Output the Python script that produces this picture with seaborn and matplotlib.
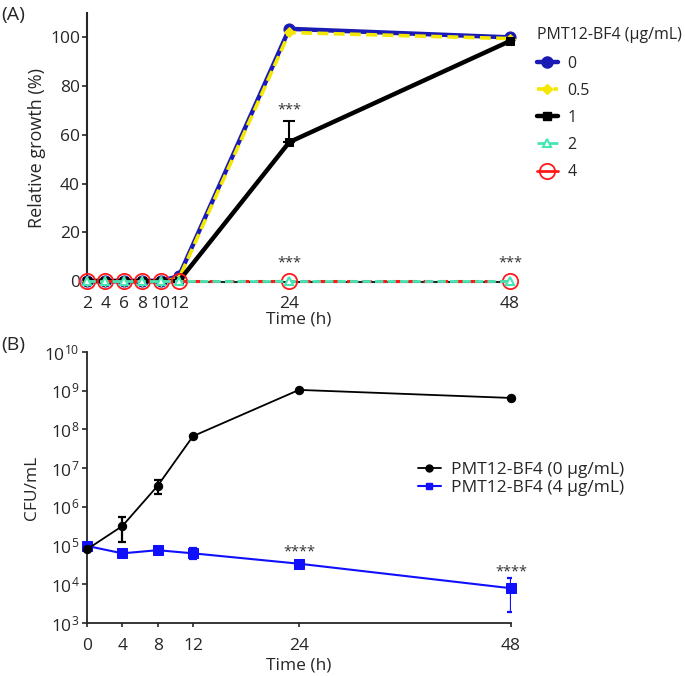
import numpy as np
import pandas as pd
import matplotlib
matplotlib.use("Agg")
import matplotlib.pyplot as plt
import seaborn as sns
from matplotlib.lines import Line2D

sns.set_style("ticks")
plt.rcParams['font.family'] = ['Open Sans', 'DejaVu Sans']
plt.rcParams['mathtext.fontset'] = 'custom'
plt.rcParams['mathtext.rm'] = 'Open Sans'

# ---------------- data: panel A ----------------
time_a = [2, 4, 6, 8, 10, 12, 24, 48]
conc_labels = ["0", "0.5", "1", "2", "4"]
growth_0 = [0, 0, 0, 0, 0, 2, 103.5, 100]
growth_05 = [0, 0, 0, 0, 0, 1, 102, 99.5]
growth_1 = [0, 0, 0, 0, 0, 0, 57, 98.5]
growth_1_err = [0, 0, 0, 0, 0, 0, 8.5, 1]
growth_2 = [0, 0, 0, 0, 0, 0, 0, 0]
growth_4 = [0, 0, 0, 0, 0, 0, 0, 0]
xticks_a = [2, 4, 6, 8, 10, 12, 24, 48]
yticks_a = [0, 20, 40, 60, 80, 100]

# ---------------- data: panel B ----------------
time_b = [0, 4, 8, 12, 24, 48]
cfu_0 = [8.0e4, 3.2e5, 3.5e6, 6.7e7, 1.05e9, 6.5e8]
cfu_0_lo = [8.0e4, 1.26e5, 2.1e6, 6.7e7, 1.05e9, 6.5e8]
cfu_0_hi = [8.0e4, 5.5e5, 5.0e6, 6.7e7, 1.05e9, 6.5e8]
cfu_4 = [9.8e4, 6.3e4, 7.6e4, 6.3e4, 3.4e4, 7.9e3]
cfu_4_lo = [9.8e4, 6.3e4, 7.6e4, 4.5e4, 3.4e4, 1.95e3]
cfu_4_hi = [9.8e4, 6.3e4, 7.6e4, 8.5e4, 3.4e4, 1.45e4]
xticks_b = [0, 4, 8, 12, 24, 48]
legend_b = ["PMT12-BF4 (0 μg/mL)", "PMT12-BF4 (4 μg/mL)"]

FS = 12.5
fig = plt.figure(figsize=(6.85, 6.76), dpi=100)
W, H = 685, 676

def px_axes(l, t, r, b):
    return fig.add_axes([l / W, 1 - b / H, (r - l) / W, (b - t) / H])

# ================= Panel A =================
axA = px_axes(87, 13, 510, 282)
blue = "#1a1ab4"
yellow = "#f5e800"
aqua = "#45e6b4"
red = "#ff1a1a"

sns.lineplot(x=time_a, y=growth_0, ax=axA, color=blue, lw=3.2, marker="o",
             markersize=8, markeredgecolor=blue, clip_on=False, zorder=3)
sns.lineplot(x=time_a, y=growth_05, ax=axA, color=yellow, lw=2.6, linestyle=(0, (3, 1.5)),
             marker="D", markersize=5, markeredgecolor=yellow, clip_on=False, zorder=4)
axA.errorbar(time_a[6:7], growth_1[6:7], yerr=[[0], growth_1_err[6:7]], fmt="none",
             ecolor="black", elinewidth=1.5, capsize=4, capthick=1.5, zorder=4)
sns.lineplot(x=time_a, y=growth_1, ax=axA, color="black", lw=3.2, marker="s",
             markersize=6, markeredgecolor="black", clip_on=False, zorder=5)
sns.lineplot(x=time_a, y=growth_4, ax=axA, color=red, lw=2.2, linestyle=(0, (3, 2)),
             marker="o", markersize=11, markerfacecolor="none", markeredgecolor=red,
             markeredgewidth=1.3, clip_on=False, zorder=6)
sns.lineplot(x=time_a, y=growth_2, ax=axA, color=aqua, lw=2.0, linestyle=(0, (3, 1.5)),
             marker="^", markersize=6, markerfacecolor="white", markeredgecolor=aqua,
             markeredgewidth=1.5, clip_on=False, zorder=7)

axA.set_xlim(2, 48)
axA.set_ylim(-0.4, 110)
axA.set_xticks(xticks_a)
axA.set_yticks(yticks_a)
axA.tick_params(axis="x", length=0, labelsize=FS, pad=10)
axA.tick_params(axis="y", length=3.5, width=1.2, labelsize=FS, pad=1.5)
for s in ["top", "right"]:
    axA.spines[s].set_visible(False)
axA.spines["left"].set_linewidth(1.5)
axA.spines["bottom"].set_linewidth(1.5)
axA.set_xlabel("Time (h)", fontsize=FS, labelpad=0)
axA.set_ylabel("Relative growth (%)", fontsize=13, labelpad=3)

ast_c = "#333333"
axA.text(24, 67, "***", ha="center", va="bottom", fontsize=10.5, color=ast_c)
axA.text(24, 4.5, "***", ha="center", va="bottom", fontsize=10.5, color=ast_c)
axA.text(48, 4.5, "***", ha="center", va="bottom", fontsize=10.5, color=ast_c)

handles_a = [
    Line2D([], [], color=blue, lw=3.2, marker="o", markersize=8),
    Line2D([], [], color=yellow, lw=2.6, linestyle=(0, (3, 1.5)), marker="D", markersize=5),
    Line2D([], [], color="black", lw=3.2, marker="s", markersize=6),
    Line2D([], [], color=aqua, lw=2.0, linestyle=(0, (3, 1.5)), marker="^", markersize=6,
           markerfacecolor="white", markeredgewidth=1.5),
    Line2D([], [], color=red, lw=2.0, marker="o", markersize=11, markerfacecolor="none",
           markeredgewidth=1.3),
]
legA = fig.legend(handles_a, conc_labels, title="PMT12-BF4 (μg/mL)",
                  loc="upper left", bbox_to_anchor=(537 / W, 1 - 27 / H),
                  frameon=False, fontsize=11.5, title_fontsize=11.5, handlelength=1.3,
                  handletextpad=0.6, labelspacing=0.7, alignment="left",
                  borderaxespad=0, borderpad=0)
legA._legend_box.sep = 9

# ================= Panel B =================
axB = px_axes(87, 352, 511, 623)
sns.lineplot(x=time_b, y=cfu_0, ax=axB, color="black", lw=1.3, marker="o",
             markersize=6, markeredgecolor="black", clip_on=False, zorder=4)
axB.errorbar(time_b, cfu_0,
             yerr=[np.array(cfu_0) - np.array(cfu_0_lo), np.array(cfu_0_hi) - np.array(cfu_0)],
             fmt="none", ecolor="black", elinewidth=1.6, capsize=3, capthick=1.6, zorder=4)
sns.lineplot(x=time_b, y=cfu_4, ax=axB, color="#1010ff", lw=1.5, marker="s",
             markersize=6.5, markeredgecolor="#1010ff", clip_on=False, zorder=3)
axB.errorbar(time_b, cfu_4,
             yerr=[np.array(cfu_4) - np.array(cfu_4_lo), np.array(cfu_4_hi) - np.array(cfu_4)],
             fmt="none", ecolor="#1010ff", elinewidth=1.6, capsize=3, capthick=1.6, zorder=3)

axB.set_yscale("log")
axB.set_ylim(1e3, 1e10)
axB.set_xlim(0, 48)
axB.set_xticks(xticks_b)
axB.set_yticks([10.0 ** k for k in range(3, 11)])
axB.tick_params(axis="x", which="major", length=3, width=1.2, labelsize=FS, pad=7.5)
axB.tick_params(axis="y", which="major", length=3.5, width=1.2, labelsize=FS, pad=2)
axB.tick_params(axis="y", which="minor", length=2, width=0.8)
for s in ["top", "right"]:
    axB.spines[s].set_visible(False)
axB.spines["left"].set_linewidth(1.3)
axB.spines["bottom"].set_linewidth(1.3)
axB.set_xlabel("Time (h)", fontsize=FS, labelpad=3)
axB.set_ylabel("CFU/mL", fontsize=FS, labelpad=3)

axB.text(24, 4.5e4, "****", ha="center", va="bottom", fontsize=10.5, color=ast_c)
axB.text(48, 1.3e4, "****", ha="center", va="bottom", fontsize=10.5, color=ast_c)

handles_b = [
    Line2D([], [], color="black", lw=1.3, marker="o", markersize=5),
    Line2D([], [], color="#1010ff", lw=1.5, marker="s", markersize=5),
]
fig.legend(handles_b, legend_b, loc="upper left", bbox_to_anchor=(418 / W, 1 - 462 / H),
           frameon=False, fontsize=12.5, handlelength=1.3, handletextpad=0.6,
           labelspacing=0.1, borderaxespad=0, borderpad=0)

fig.text(1 / W, 1 - 15 / H, "(A)", fontsize=14, va="center", ha="left")
fig.text(1 / W, 1 - 345 / H, "(B)", fontsize=14, va="center", ha="left")

fig.savefig("out.png", dpi=100)
